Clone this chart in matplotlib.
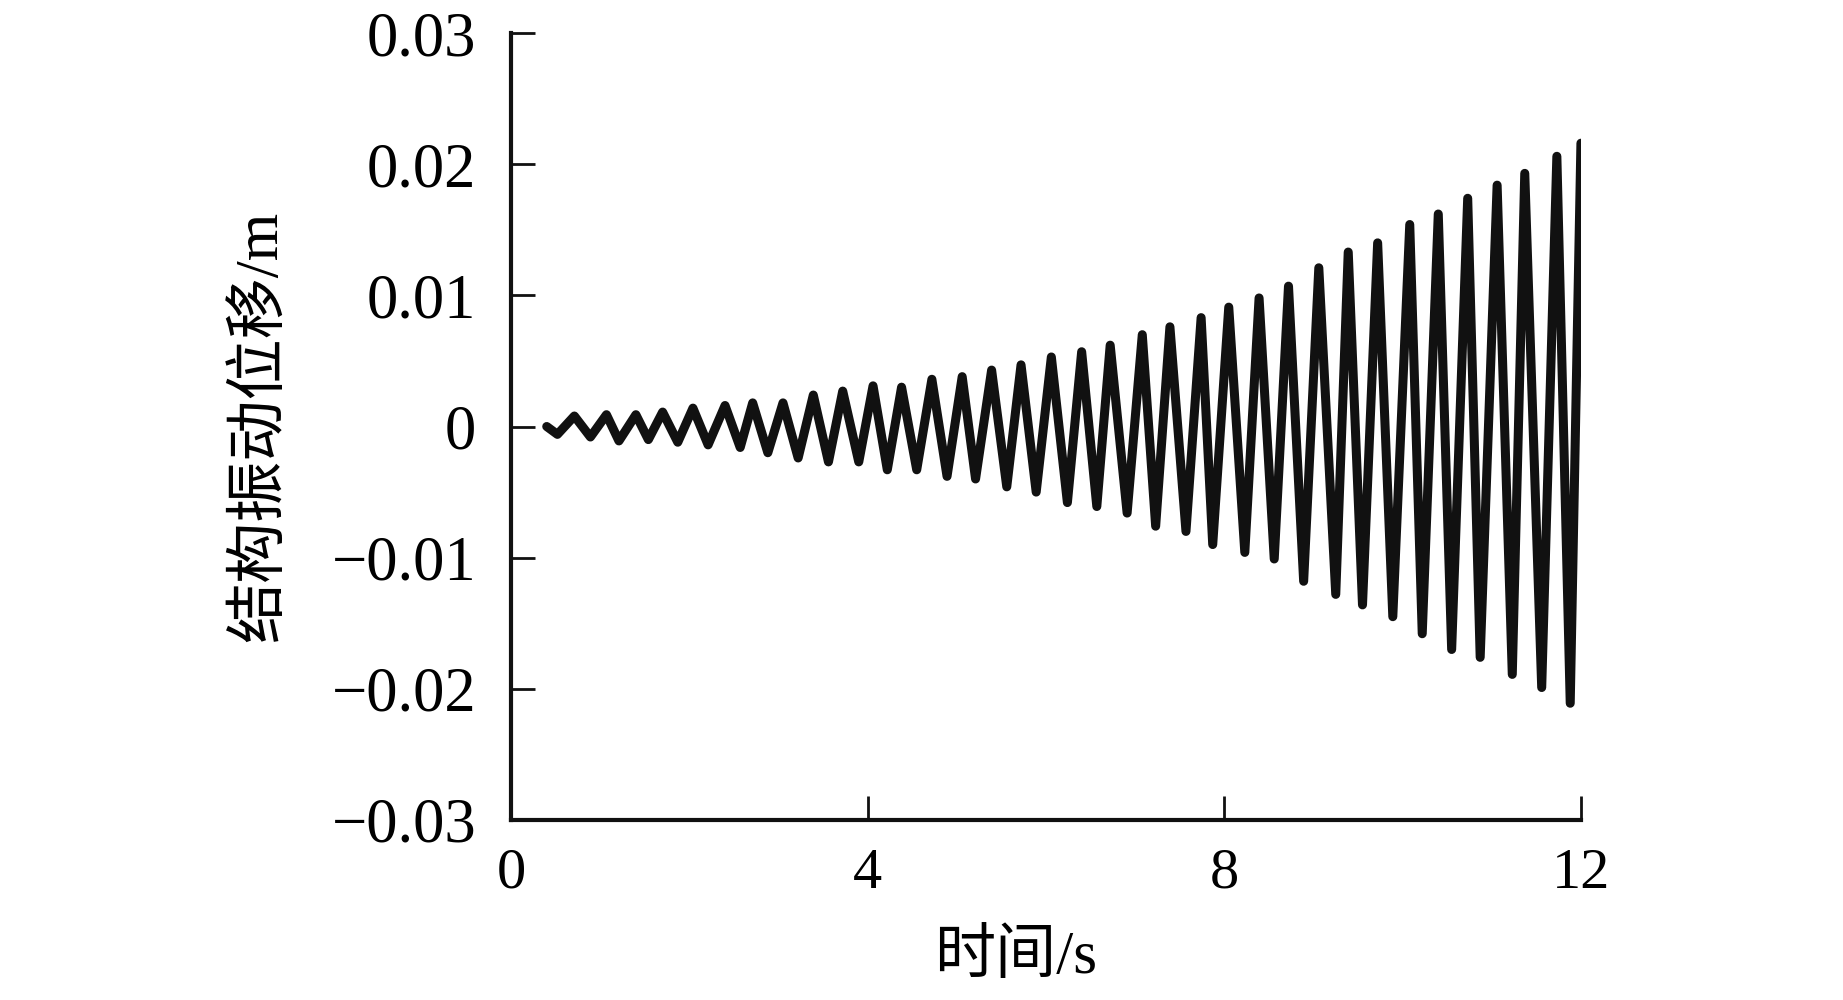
import matplotlib
matplotlib.use("Agg")
import matplotlib.pyplot as plt

# peaks and troughs (time in s, displacement in m)
times = [0.40, 0.52, 0.71, 0.89, 1.07, 1.21, 1.40, 1.54, 1.70, 1.87,
         2.04, 2.21, 2.40, 2.57, 2.71, 2.88, 3.05, 3.22, 3.39, 3.56,
         3.72, 3.90, 4.06, 4.22, 4.38, 4.55, 4.72, 4.89, 5.06, 5.21,
         5.39, 5.56, 5.72, 5.89, 6.06, 6.24, 6.40, 6.57, 6.72, 6.91,
         7.08, 7.23, 7.39, 7.57, 7.74, 7.87, 8.05, 8.23, 8.39, 8.56,
         8.72, 8.89, 9.06, 9.25, 9.39, 9.55, 9.72, 9.89, 10.08, 10.22,
         10.40, 10.55, 10.73, 10.87, 11.06, 11.23, 11.37, 11.56, 11.73, 11.88,
         12.00]
disp = [0.0000, -0.0006, 0.0008, -0.0008, 0.0009, -0.0011, 0.0009, -0.0010, 0.0011, -0.0012,
        0.0014, -0.0014, 0.0016, -0.0016, 0.0018, -0.0020, 0.0018, -0.0024, 0.0024, -0.0027,
        0.0027, -0.0027, 0.0031, -0.0033, 0.0030, -0.0033, 0.0036, -0.0038, 0.0038, -0.0040,
        0.0043, -0.0046, 0.0047, -0.0050, 0.0053, -0.0058, 0.0057, -0.0061, 0.0062, -0.0066,
        0.0070, -0.0076, 0.0076, -0.0080, 0.0083, -0.0090, 0.0091, -0.0096, 0.0098, -0.0101,
        0.0107, -0.0118, 0.0121, -0.0128, 0.0133, -0.0136, 0.0140, -0.0145, 0.0154, -0.0158,
        0.0162, -0.0170, 0.0174, -0.0176, 0.0184, -0.0189, 0.0193, -0.0199, 0.0206, -0.0211,
        0.0216]

xticks = [0, 4, 8, 12]
xlabels = ['0', '4', '8', '12']
yticks = [-0.03, -0.02, -0.01, 0, 0.01, 0.02, 0.03]
ylabels = ['\u22120.03', '\u22120.02', '\u22120.01', '0', '0.01', '0.02', '0.03']

fonts = ['Liberation Serif', 'Noto Sans CJK SC', 'DejaVu Sans']
plt.rcParams['font.family'] = fonts

fig = plt.figure(figsize=(18.43, 10), dpi=100)
ax = fig.add_axes([0.2773, 0.180, 0.5805, 0.787])

ax.plot(times, disp, color='#111111', lw=6.5,
        solid_joinstyle='round', solid_capstyle='round')

ax.set_xlim(0, 12)
ax.set_ylim(-0.03, 0.03)
ax.set_xticks(xticks)
ax.set_xticklabels(xlabels)
ax.set_yticks(yticks)
ax.set_yticklabels(ylabels)

for s in ['top', 'right']:
    ax.spines[s].set_visible(False)
for s in ['left', 'bottom']:
    ax.spines[s].set_linewidth(3)
    ax.spines[s].set_color('#111111')

ax.tick_params(axis='both', direction='in', length=17, width=2, color='#111111')
ax.tick_params(axis='y', labelsize=45, pad=25)
ax.tick_params(axis='x', labelsize=42, pad=20)

ax.set_xlabel('时间/s', fontsize=44)
ax.set_ylabel('结构振动位移/m', fontsize=44)
ax.xaxis.set_label_coords(0.472, -0.14)
ax.yaxis.set_label_coords(-0.208, 0.5)

fig.savefig('out.png', dpi=100)
